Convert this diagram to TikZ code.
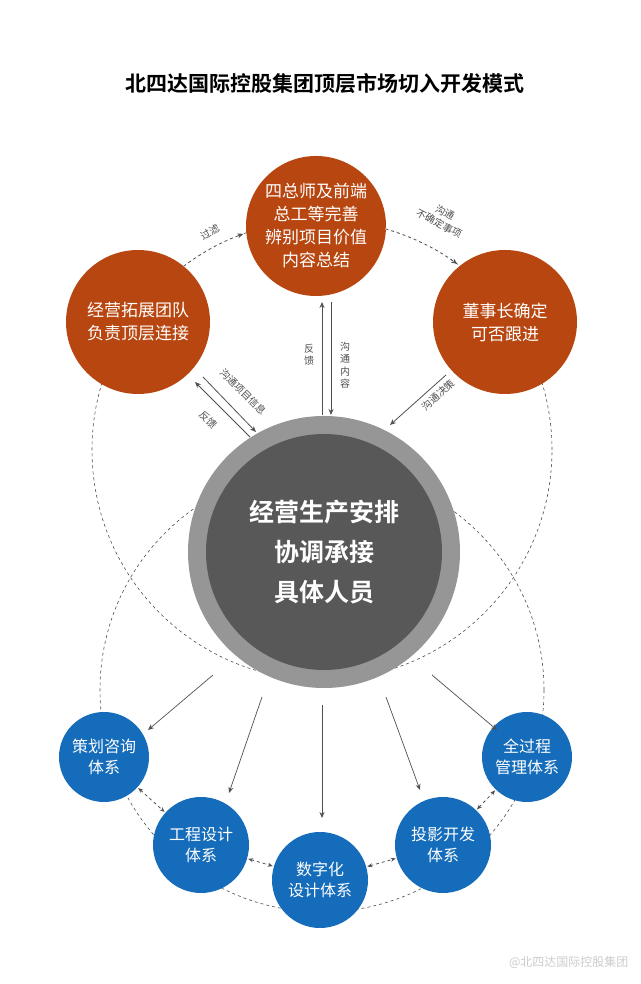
\documentclass[tikz,border=0pt]{standalone}
\usepackage{fontspec}
\setmainfont{Noto Sans CJK SC}
\newfontfamily\cjkb{Noto Sans CJK SC Bold}
\usetikzlibrary{arrows.meta}
\definecolor{rust}{RGB}{184,70,16}
\definecolor{bl}{RGB}{20,108,186}
\definecolor{gout}{RGB}{150,150,150}
\definecolor{gin}{RGB}{88,88,88}
\definecolor{ln}{RGB}{80,80,80}
\begin{document}
\begin{tikzpicture}[x=1pt,y=1pt,
 orng/.style={circle,fill=rust,text=white,minimum size=144pt,inner sep=0pt,align=center,font=\fontsize{17}{23}\selectfont},
 blue/.style={circle,fill=bl,text=white,inner sep=0pt,align=center,font=\fontsize{16}{21}\selectfont},
 dsh/.style={dashed,ln,line width=0.6pt},
 arr/.style={-{Stealth[length=6pt,width=5pt]},ln,line width=0.8pt},
 lbl/.style={text=ln,font=\fontsize{10}{12.5}\selectfont,align=center,inner sep=0pt}]
\useasboundingbox (0,0) rectangle (640,984);
\fill[white] (0,0) rectangle (640,984);
% dashed circles
\draw[dsh] (322,534) circle (230);
\draw[dsh] (322,294) circle (222);
\node[font=\cjkb\fontsize{21}{24}\selectfont] (title) at (325,900) {北四达国际控股集团顶层市场切入开发模式};
\node[orng,minimum size=140pt] (T) at (316,758) {四总师及前端\\总工等完善\\辨别项目价值\\内容总结};
\node[orng] (L) at (138,662) {经营拓展团队\\负责顶层连接};
\node[orng] (R) at (505,662) {董事长确定\\可否跟进};
\node[circle,fill=gout,minimum size=272pt,inner sep=0pt] (Co) at (324,432) {};
\node[circle,fill=gin,minimum size=236pt,inner sep=0pt,text=white,align=center,font=\cjkb\fontsize{25}{40}\selectfont] (C) at (324,432) {经营生产安排\\协调承接\\具体人员};
\node[blue,minimum size=90pt] (B1) at (104,227) {策划咨询\\体系};
\node[blue,minimum size=96pt] (B2) at (201,139) {工程设计\\体系};
\node[blue,minimum size=96pt] (B3) at (320,104) {数字化\\设计体系};
\node[blue,minimum size=96pt] (B4) at (443,139) {投影开发\\体系};
\node[blue,minimum size=90pt] (B5) at (527,227) {全过程\\管理体系};
% top arcs
\draw[white,line width=1.5pt] (322,534) ++(127:230) arc (127:112:230);
\draw[white,line width=1.5pt] (322,534) ++(74:230) arc (74:56:230);
\draw[dsh,line width=0.8pt,-{Stealth[length=6pt,width=5pt]}] (322,534) ++(127:230) arc (127:110:230);
\draw[dsh,line width=0.8pt,-{Stealth[length=6pt,width=5pt]}] (322,534) ++(74:230) arc (74:54:230);
\node[lbl,rotate=30] (l1) at (210,752) {过滤};
\node[lbl,rotate=-28] (l2) at (442,766) {沟通\\不确定事项};
% vertical arrows
\coordinate (a1) at (322,569); \coordinate (a2) at (322,682);
\coordinate (a3) at (331,682); \coordinate (a4) at (331,569);
\draw[arr] (a1) -- (a2);
\draw[arr] (a3) -- (a4);
\node[lbl] (l3) at (309,629) {反\\馈};
\node[lbl] (l4) at (345,619) {沟\\通\\内\\容};
% left diagonal
\coordinate (b1) at (250,547); \coordinate (b2) at (195,602);
\coordinate (b3) at (203,607); \coordinate (b4) at (256,552);
\draw[arr] (b1) -- (b2);
\draw[arr] (b3) -- (b4);
\node[lbl,rotate=-45] (l5) at (243,592) {沟通项目信息};
\node[lbl,rotate=-45] (l6) at (208,564) {反馈};
% right diagonal
\coordinate (c1) at (446,609); \coordinate (c2) at (390,559);
\draw[arr] (c1) -- (c2);
\node[lbl,rotate=42] (l7) at (438,589) {沟通决策};
% bottom arrows
\coordinate (d1) at (213,309); \coordinate (e1) at (148,254);
\coordinate (d2) at (262,287); \coordinate (e2) at (229,191);
\coordinate (d3) at (322,279); \coordinate (e3) at (322,166);
\coordinate (d4) at (386,287); \coordinate (e4) at (420,194);
\coordinate (d5) at (432,309); \coordinate (e5) at (497,254);
\foreach \i in {1,...,5} \draw[arr,line width=0.7pt] (d\i) -- (e\i);
% between blue
\foreach \a/\b in {B1/B2,B2/B3,B3/B4,B4/B5}
 \draw[dsh,{Stealth[length=5pt,width=4pt]}-{Stealth[length=5pt,width=4pt]},line width=0.8pt,shorten <=1pt,shorten >=1pt] (\a) -- (\b);
\node[text=gray!40,font=\fontsize{12}{12}\selectfont,anchor=east] (wm) at (632,22) {@北四达国际控股集团};
\end{tikzpicture}
\end{document}
